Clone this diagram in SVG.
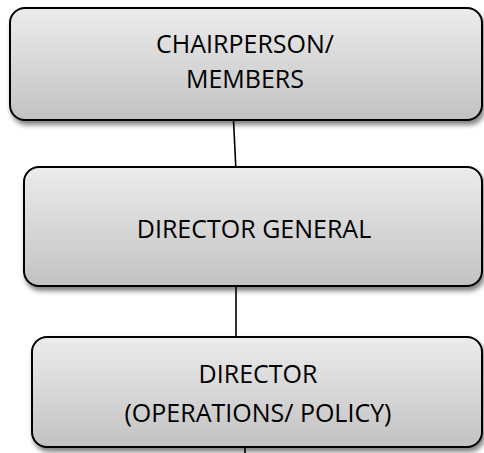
<svg xmlns="http://www.w3.org/2000/svg" width="484" height="453" viewBox="0 0 484 453">
  <defs>
    <linearGradient id="boxFill" x1="0" y1="0" x2="0" y2="1">
      <stop offset="0" stop-color="#ececec"/>
      <stop offset="1" stop-color="#c2c2c2"/>
    </linearGradient>
    <filter id="shadow" x="-5%" y="-10%" width="115%" height="130%">
      <feGaussianBlur in="SourceAlpha" stdDeviation="2.5"/>
      <feOffset dx="2" dy="4" result="b"/>
      <feComponentTransfer><feFuncA type="linear" slope="0.5"/></feComponentTransfer>
      <feMerge><feMergeNode/><feMergeNode in="SourceGraphic"/></feMerge>
    </filter>
  </defs>
  <style>
    .box { fill: url(#boxFill); stroke: #000; stroke-width: 2; filter: url(#shadow); }
    .lbl { font-family: "Open Sans", "Liberation Sans", sans-serif; font-size: 25px; fill: #000; text-anchor: middle; }
    .conn { stroke: #000; stroke-width: 1.6; fill: none; }
  </style>
  <rect width="484" height="453" fill="#fff"/>
  <g id="connectors">
    <line class="conn" x1="233.5" y1="120" x2="235.8" y2="167"/>
    <line class="conn" x1="236" y1="286" x2="236" y2="336"/>
    <line class="conn" x1="245" y1="447" x2="245" y2="453"/>
  </g>
  <g id="node-chairperson">
    <rect class="box" x="10" y="8" width="472" height="112" rx="15" ry="15"/>
    <text class="lbl" x="245" y="53">CHAIRPERSON/</text>
    <text class="lbl" x="245" y="88">MEMBERS</text>
  </g>
  <g id="node-director-general">
    <rect class="box" x="24" y="167" width="458" height="119" rx="15" ry="15"/>
    <text class="lbl" x="254" y="238">DIRECTOR GENERAL</text>
  </g>
  <g id="node-director">
    <rect class="box" x="32" y="337" width="450" height="110" rx="15" ry="15"/>
    <text class="lbl" x="258" y="383">DIRECTOR</text>
    <text class="lbl" x="258" y="422">(OPERATIONS/ POLICY)</text>
  </g>
</svg>
